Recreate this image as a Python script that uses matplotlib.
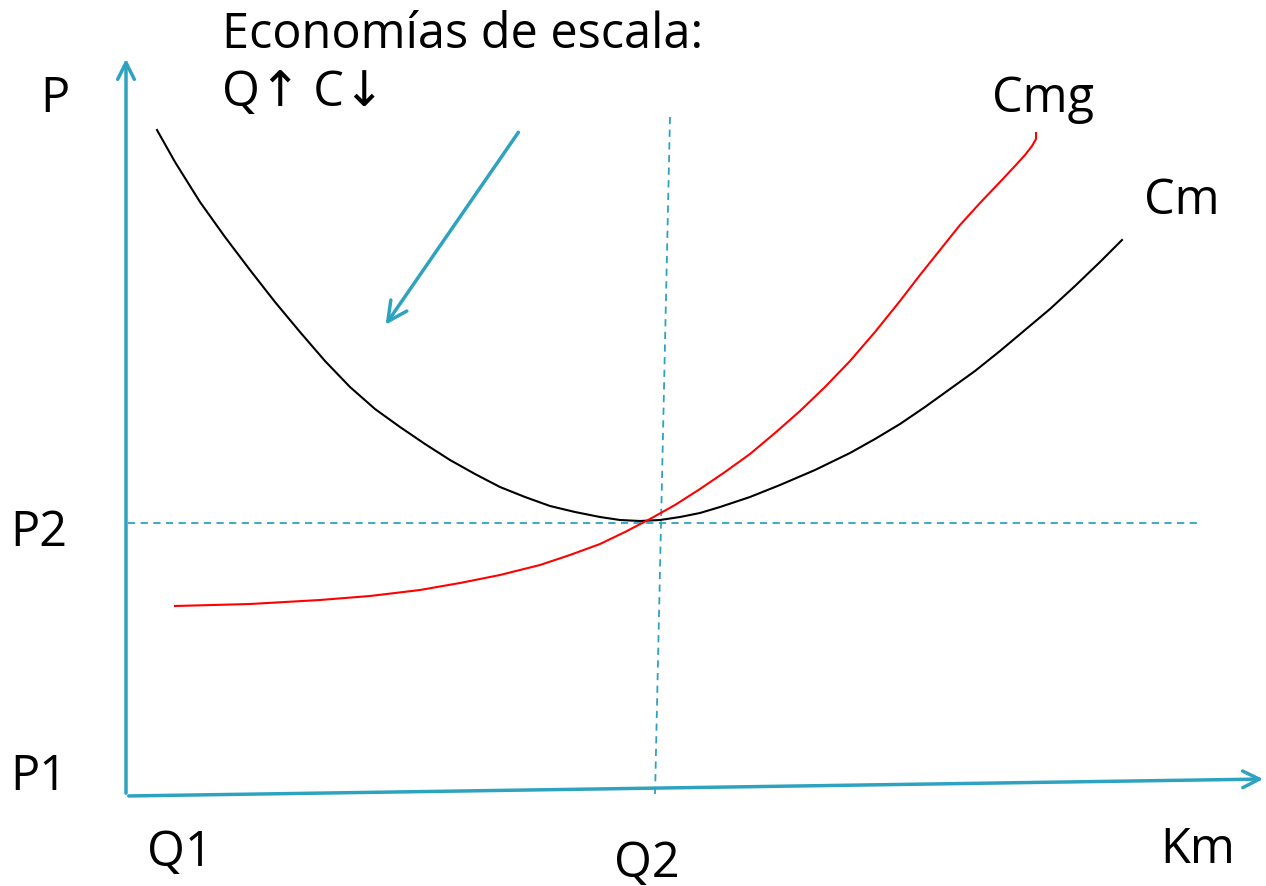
import numpy as np
import matplotlib.pyplot as plt
from matplotlib.patches import FancyArrowPatch

plt.rcParams['font.family'] = ['Open Sans', 'DejaVu Sans']

# curves (pixel coordinates, y downwards)
cm_x = [157, 175, 200, 225, 250, 275, 300, 325, 350, 375, 400, 425, 450, 475, 500, 525, 550,
        575, 600, 620, 640, 660, 680, 700, 720, 750, 780, 815, 850, 875, 900, 925, 950, 975,
        1000, 1025, 1050, 1075, 1100, 1122]
cm_y = [131, 163, 203, 238, 271, 303, 333, 362, 388, 410, 428, 445, 461, 475, 488, 498, 507,
        513, 518, 521, 522, 521, 518, 514, 508, 498, 486, 471, 454, 440, 425, 408, 390, 372,
        352, 331, 310, 287, 263, 241]

cmg_x = [175, 250, 320, 370, 420, 460, 500, 540, 570, 600, 625, 650, 675, 700, 725, 750, 775,
         800, 825, 850, 875, 900, 920, 940, 960, 980, 1000, 1015, 1025, 1032, 1036, 1036]
cmg_y = [607, 605, 601, 597, 591, 584, 576, 566, 556, 545, 533, 520, 506, 490, 473, 455, 434,
         412, 388, 362, 333, 302, 276, 251, 226, 204, 183, 167, 156, 147, 140, 134]

labels = {'P': (40, 112), 'P2': (10, 546), 'P1': (10, 790), 'Q1': (147, 866),
          'Q2': (614, 877), 'Km': (1160, 863), 'Cmg': (992, 112), 'Cm': (1144, 214)}

blue = '#2ea3c0'

fig = plt.figure(figsize=(12.66, 8.87), dpi=100)
ax = fig.add_axes([0, 0, 1, 1])
ax.set_xlim(0, 1266)
ax.set_ylim(887, 0)
ax.axis('off')

# axes with open arrowheads
ax.add_patch(FancyArrowPatch((126, 797), (126, 57), arrowstyle='->,head_length=12,head_width=6',
                             color=blue, lw=2.5, mutation_scale=1))
ax.add_patch(FancyArrowPatch((126, 797), (1266, 780), arrowstyle='->,head_length=12,head_width=6',
                             color=blue, lw=2.5, mutation_scale=1))

# dashed guide lines
ax.plot([128, 1198], [524, 524], color=blue, lw=1.3, ls=(0, (4, 3)))
ax.plot([670, 655], [118, 797], color=blue, lw=1.3, ls=(0, (4, 3)))

ax.plot(cm_x, cm_y, color='black', lw=1.5, solid_joinstyle='round')
ax.plot(cmg_x, cmg_y, color='red', lw=1.5, solid_joinstyle='round')

# economies of scale arrow
ax.add_patch(FancyArrowPatch((520, 131), (384, 328), arrowstyle='->,head_length=14,head_width=7',
                             color=blue, lw=2.5, mutation_scale=1))

for txt, (x, y) in labels.items():
    ax.text(x, y, txt, fontsize=35, va='baseline', ha='left')

ax.text(222, 48, 'Economías de escala:', fontsize=35, va='baseline')
ax.text(222, 106, 'Q↑ C↓', fontsize=35, va='baseline')

fig.savefig('out.png', dpi=100)
